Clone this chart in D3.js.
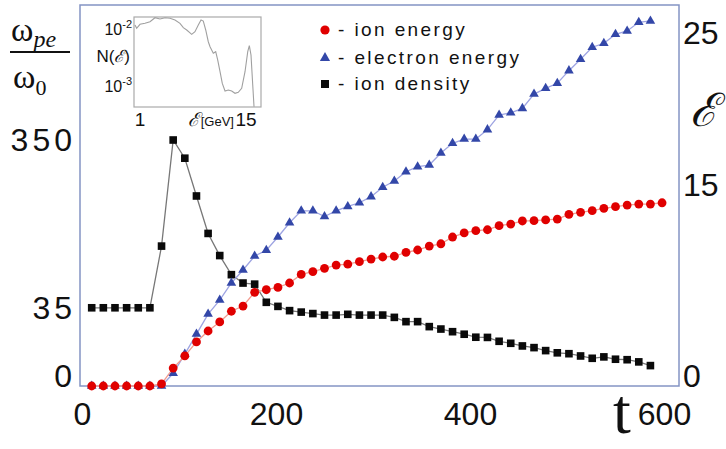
<!DOCTYPE html>
<html>
<head>
<meta charset="utf-8">
<script src="https://cdn.jsdelivr.net/npm/d3@7"></script>
<style>
  html, body { margin: 0; padding: 0; background: #fff; }
  svg { display: block; }
  .tick text { font-family: "Liberation Sans", Arial, sans-serif; fill: #111; }
</style>
</head>
<body>
<svg id="chart" width="726" height="449"></svg>
<script>
// time steps
const tValues = [10, 22, 34, 46, 58, 70, 82, 94, 106, 118, 130, 142, 154, 166, 178, 190, 202, 214, 226, 238,
    250, 262, 274, 286, 298, 310, 322, 334, 346, 358, 370, 382, 394, 406, 418, 430, 442, 454, 466, 478,
    490, 502, 514, 526, 538, 550, 562, 574, 586, 598];

// ion density  (omega_pe / omega_0), left axis
const ionDensity = [35, 35, 35, 35, 35, 35, 96, 350, 285, 183, 114, 84, 63, 55, 54, 39, 36, 33, 32,
    31, 30, 30, 30.5, 30, 30, 30, 28.5, 25.8, 25.8, 22.8, 21.4, 19.9, 18.5, 16.9, 16.8,
    14.8, 13.8, 12.5, 11.7, 10.3, 9.3, 8.9, 7.9, 6.9, 7.5, 6.5, 6.3, 5.4, 3.9];

// energies, right axis
const ionEnergy = [0, 0, 0, 0, 0, 0, 0.16, 1.41, 2.36, 3.46, 4.32, 5.03, 5.87, 6.28, 7.36, 7.56,
    7.74, 8.09, 8.76, 8.99, 9.24, 9.50, 9.57, 9.76, 9.97, 10.13, 10.19, 10.50, 10.68, 10.99,
    11.17, 11.70, 12.02, 12.20, 12.27, 12.59, 12.72, 12.96, 12.98, 13.04, 13.11, 13.48, 13.64,
    13.77, 13.95, 14.08, 14.21, 14.29, 14.29, 14.39];

const electronEnergy = [0, 0, 0, 0, 0, 0, 0, 1.00, 2.51, 4.08, 5.65, 6.75, 8.09, 9.11, 10.21, 10.66,
    11.70, 12.82, 13.76, 13.76, 13.31, 13.76, 14.10, 14.39, 14.87, 15.51, 15.92, 16.53, 16.86,
    16.97, 17.76, 18.40, 18.68, 18.68, 19.30, 20.26, 20.41, 20.70, 21.64, 22.02, 22.35, 23.18,
    23.93, 24.72, 24.98, 25.57, 25.79, 26.36, 26.45];

// inset spectrum N(E), E in GeV
const specE = [0.34, 0.56, 1.0, 1.66, 2.32, 2.98, 3.64, 4.30, 4.96, 5.62, 6.28, 6.72, 7.17, 7.83, 8.26,
    8.70, 9.06, 9.36, 9.68, 10.02, 10.25, 10.68, 11.00, 11.26, 11.57, 11.87, 12.23, 12.66, 13.11,
    13.55, 13.98, 14.43, 14.87, 15.23, 15.44, 15.66, 15.89, 16.06];
const specN = [0.01175, 0.01029, 0.01208, 0.01259, 0.01343, 0.01577, 0.01496, 0.01577, 0.01542, 0.01439,
    0.01259, 0.01054, 0.00961, 0.00807, 0.00897, 0.01175, 0.01439, 0.01380, 0.00961, 0.00598,
    0.00489, 0.00375, 0.00400, 0.00286, 0.00178, 0.00111, 0.000816, 0.000851, 0.000816, 0.000745,
    0.000775, 0.000912, 0.00178, 0.00400, 0.00509, 0.00350, 0.00104, 0.000434];

const xTicks = [0, 200, 400, 600];
const leftTicks = [0, 35, 350];
const rightTicks = [0, 15, 25];
const legendItems = ["- ion energy", "- electron energy", "- ion density"];

const svg = d3.select("#chart");
const frame = { left: 80, right: 679, top: 5, bottom: 386 };

const x = d3.scaleLinear().domain([0, 600]).range([82, 664]);
const yLeft = d3.scaleSymlog().constant(35).domain([0, 350]).range([376, 140]);
const yRight = d3.scaleLinear().domain([0, 15, 25]).range([386, 195, 43]);

// frame
svg.append("rect")
    .attr("x", frame.left).attr("y", frame.top)
    .attr("width", frame.right - frame.left).attr("height", frame.bottom - frame.top)
    .attr("fill", "none").attr("stroke", "#8494c4").attr("stroke-width", 1.5);

// axes
const gx = svg.append("g").attr("transform", `translate(0,${frame.bottom})`)
    .call(d3.axisBottom(x).tickValues(xTicks).tickSize(0).tickPadding(16).tickFormat(d3.format("d")));
gx.select(".domain").remove();
gx.selectAll("text").style("font-size", "32px");

const gl = svg.append("g").attr("transform", `translate(${frame.left},0)`)
    .call(d3.axisLeft(yLeft).tickValues(leftTicks).tickSize(0).tickPadding(4).tickFormat(d3.format("d")));
gl.select(".domain").remove();
gl.selectAll("text").style("font-size", "32px").style("letter-spacing", "4px");

const gr = svg.append("g").attr("transform", `translate(${frame.right},0)`)
    .call(d3.axisRight(yRight).tickValues(rightTicks).tickSize(0).tickPadding(4).tickFormat(d3.format("d")));
gr.select(".domain").remove();
gr.selectAll("text").style("font-size", "32px").attr("y", -10);

// axis titles
svg.append("text").attr("x", 613).attr("y", 433)
    .attr("font-family", "Liberation Serif, serif").attr("font-size", 64).attr("fill", "#111").text("t");

svg.append("text").attr("x", 690).attr("y", 126)
    .attr("font-family", "DejaVu Serif, serif").attr("font-style", "italic")
    .attr("font-size", 46).attr("fill", "#111").text("ℰ");

const num = svg.append("text").attr("x", 11).attr("y", 41)
    .attr("font-family", "Liberation Serif, serif").attr("font-size", 34).attr("fill", "#111");
num.append("tspan").text("ω");
num.append("tspan").attr("dy", 6).attr("font-size", 24).attr("font-style", "italic").text("pe");
svg.append("line").attr("x1", 10).attr("x2", 70).attr("y1", 52).attr("y2", 52)
    .attr("stroke", "#111").attr("stroke-width", 2.2);
const den = svg.append("text").attr("x", 13).attr("y", 88)
    .attr("font-family", "Liberation Serif, serif").attr("font-size", 34).attr("fill", "#111");
den.append("tspan").text("ω");
den.append("tspan").attr("dy", 7).attr("font-size", 22).text("0");

// series
const densityPts = ionDensity.map((v, i) => [tValues[i], v]);
const electronPts = electronEnergy.map((v, i) => [tValues[i], v]);
const ionPts = ionEnergy.map((v, i) => [tValues[i], v]);

svg.append("path").datum(densityPts)
    .attr("d", d3.line().x(d => x(d[0])).y(d => yLeft(d[1])))
    .attr("fill", "none").attr("stroke", "#777").attr("stroke-width", 1.3);
svg.append("g").selectAll("rect").data(densityPts).enter().append("rect")
    .attr("x", d => x(d[0]) - 3.8).attr("y", d => yLeft(d[1]) - 3.8)
    .attr("width", 7.6).attr("height", 7.6).attr("fill", "#0a0a0a");

svg.append("path").datum(electronPts)
    .attr("d", d3.line().x(d => x(d[0])).y(d => yRight(d[1])))
    .attr("fill", "none").attr("stroke", "#9ea4e2").attr("stroke-width", 1.3);
svg.append("g").selectAll("path").data(electronPts).enter().append("path")
    .attr("d", d3.symbol(d3.symbolTriangle, 40))
    .attr("transform", d => `translate(${x(d[0])},${yRight(d[1])})`)
    .attr("fill", "#3347a8");

svg.append("path").datum(ionPts)
    .attr("d", d3.line().x(d => x(d[0])).y(d => yRight(d[1])))
    .attr("fill", "none").attr("stroke", "#f29a8e").attr("stroke-width", 1.3);
svg.append("g").selectAll("circle").data(ionPts).enter().append("circle")
    .attr("cx", d => x(d[0])).attr("cy", d => yRight(d[1])).attr("r", 4.4)
    .attr("fill", "#e00000");

// legend
const legend = svg.append("g");
const legY = [30, 58, 84];
legend.append("circle").attr("cx", 325).attr("cy", legY[0]).attr("r", 4.6).attr("fill", "#e00000");
legend.append("path").attr("d", d3.symbol(d3.symbolTriangle, 45))
    .attr("transform", `translate(325,${legY[1]})`).attr("fill", "#3347a8");
legend.append("rect").attr("x", 321).attr("y", legY[2] - 4).attr("width", 8).attr("height", 8).attr("fill", "#0a0a0a");
legend.selectAll("text.leg").data(legendItems).enter().append("text")
    .attr("class", "leg")
    .attr("x", 338).attr("y", (d, i) => legY[i] + 6)
    .attr("font-family", "Liberation Sans, Arial, sans-serif").attr("font-size", 19)
    .attr("letter-spacing", "2.4px").attr("fill", "#111").text(d => d);

// inset spectrum
const inset = { left: 134, right: 261, top: 17, bottom: 107 };
const xs = d3.scaleLinear().domain([1, 15]).range([140, 246]);
const ys = d3.scaleLog().domain([1e-3, 1e-2]).range([86, 29]);

svg.append("defs").append("clipPath").attr("id", "insetClip")
    .append("rect").attr("x", inset.left).attr("y", inset.top)
    .attr("width", inset.right - inset.left).attr("height", inset.bottom - inset.top);

svg.append("rect").attr("x", inset.left).attr("y", inset.top)
    .attr("width", inset.right - inset.left).attr("height", inset.bottom - inset.top)
    .attr("fill", "#fff").attr("stroke", "#aaa").attr("stroke-width", 1.2);

svg.append("path").datum(specE.map((e, i) => [e, specN[i]]))
    .attr("clip-path", "url(#insetClip)")
    .attr("d", d3.line().x(d => xs(d[0])).y(d => ys(d[1])))
    .attr("fill", "none").attr("stroke", "#a0a0a0").attr("stroke-width", 1.1);

const insetFont = "Liberation Sans, Arial, sans-serif";
[1e-2, 1e-3].forEach(v => {
    const t = svg.append("text").attr("x", 132).attr("y", ys(v) + 6).attr("text-anchor", "end")
        .attr("font-family", insetFont).attr("font-size", 16).attr("fill", "#111");
    t.append("tspan").text("10");
    t.append("tspan").attr("dy", -7).attr("font-size", 11).text(String(Math.round(Math.log10(v))));
});
const nl = svg.append("text").attr("x", 130).attr("y", 62).attr("text-anchor", "end")
    .attr("font-family", insetFont).attr("font-size", 17).attr("fill", "#111");
nl.append("tspan").text("N(");
nl.append("tspan").attr("font-family", "DejaVu Serif, serif").attr("font-style", "italic").text("ℰ");
nl.append("tspan").text(")");

[1, 15].forEach(v => {
    svg.append("text").attr("x", xs(v)).attr("y", 126).attr("text-anchor", "middle")
        .attr("font-family", insetFont).attr("font-size", 19).attr("fill", "#111").text(v);
});
const el = svg.append("text").attr("x", xs(15) - 12).attr("y", 126).attr("text-anchor", "end")
    .attr("fill", "#111");
el.append("tspan").attr("font-family", "DejaVu Serif, serif").attr("font-style", "italic")
    .attr("font-size", 19).text("ℰ");
el.append("tspan").attr("font-family", insetFont).attr("font-size", 13).attr("dx", 2).text("[GeV]");
</script>
</body>
</html>
